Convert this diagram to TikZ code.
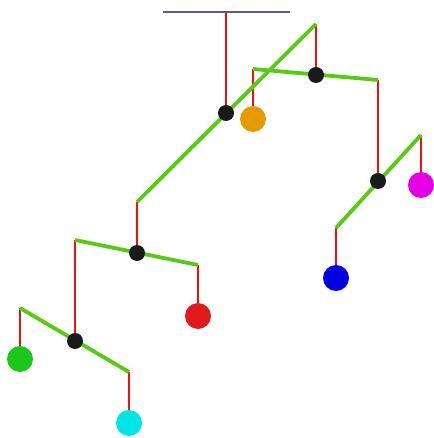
\documentclass[tikz,border=0pt]{standalone}
\definecolor{barg}{HTML}{55CC11}
\definecolor{strr}{HTML}{EE1111}
\definecolor{ceil}{HTML}{5A5A8C}
\definecolor{piv}{HTML}{1A1A1A}
\definecolor{borange}{HTML}{E69A00}
\definecolor{bblue}{HTML}{0000E0}
\definecolor{bmag}{HTML}{E600E6}
\definecolor{bcyan}{HTML}{00E5E5}
\definecolor{bred}{HTML}{E01A1A}
\definecolor{bgreen}{HTML}{1AC81A}
\tikzset{
  rod/.style={barg, line width=3.8pt},
  wire/.style={strr, line width=2.2pt},
  pivot/.style={circle, fill=piv, inner sep=0pt, minimum size=16pt},
  ball/.style={circle, inner sep=0pt, minimum size=26pt},
}
\begin{document}
\begin{tikzpicture}[x=1pt,y=-1pt]
\useasboundingbox (0,0) rectangle (433,438);
% coordinates
\coordinate (c1) at (163,12);
\coordinate (c2) at (290,12);
\coordinate (hook) at (226,12);
\coordinate (b1l) at (137,202);
\coordinate (b1r) at (316,24);
\coordinate (b3l) at (253,69);
\coordinate (b3r) at (378,80);
\coordinate (b4l) at (336,228);
\coordinate (b4r) at (421,135);
\coordinate (b2l) at (75,240);
\coordinate (b2r) at (198,265);
\coordinate (b5l) at (20,308);
\coordinate (b5r) at (129,372);
% centres of pivots and balls
\coordinate (p1) at (226,113);
\coordinate (p2) at (137,253);
\coordinate (p3) at (316,75);
\coordinate (p4) at (378,181);
\coordinate (p5) at (75,341);
\coordinate (orange) at (253,119);
\coordinate (blue) at (336,278);
\coordinate (magenta) at (421,185);
\coordinate (red) at (198,316);
\coordinate (green) at (20,359);
\coordinate (cyan) at (129,423);
% ceiling
\draw[ceil, line width=2.6pt] (c1) -- (c2);
% wires
\draw[wire] (hook) -- (p1);
\draw[wire] (b1l) -- (p2);
\draw[wire] (b1r) -- (p3);
\draw[wire] (b3l) -- (orange);
\draw[wire] (b3r) -- (p4);
\draw[wire] (b4l) -- (blue);
\draw[wire] (b4r) -- (magenta);
\draw[wire] (b2l) -- (p5);
\draw[wire] (b2r) -- (red);
\draw[wire] (b5l) -- (green);
\draw[wire] (b5r) -- (cyan);
% rods
\draw[rod] (b1l) -- (b1r);
\draw[rod] (b3l) -- (b3r);
\draw[rod] (b4l) -- (b4r);
\draw[rod] (b2l) -- (b2r);
\draw[rod] (b5l) -- (b5r);
% pivots
\node[pivot] (n1) at (p1) {};
\node[pivot] (n2) at (p2) {};
\node[pivot] (n3) at (p3) {};
\node[pivot] (n4) at (p4) {};
\node[pivot] (n5) at (p5) {};
% balls
\node[ball, fill=borange] (norange) at (orange) {};
\node[ball, fill=bblue] (nblue) at (blue) {};
\node[ball, fill=bmag] (nmag) at (magenta) {};
\node[ball, fill=bred] (nred) at (red) {};
\node[ball, fill=bgreen] (ngreen) at (green) {};
\node[ball, fill=bcyan] (ncyan) at (cyan) {};
\end{tikzpicture}
\end{document}
